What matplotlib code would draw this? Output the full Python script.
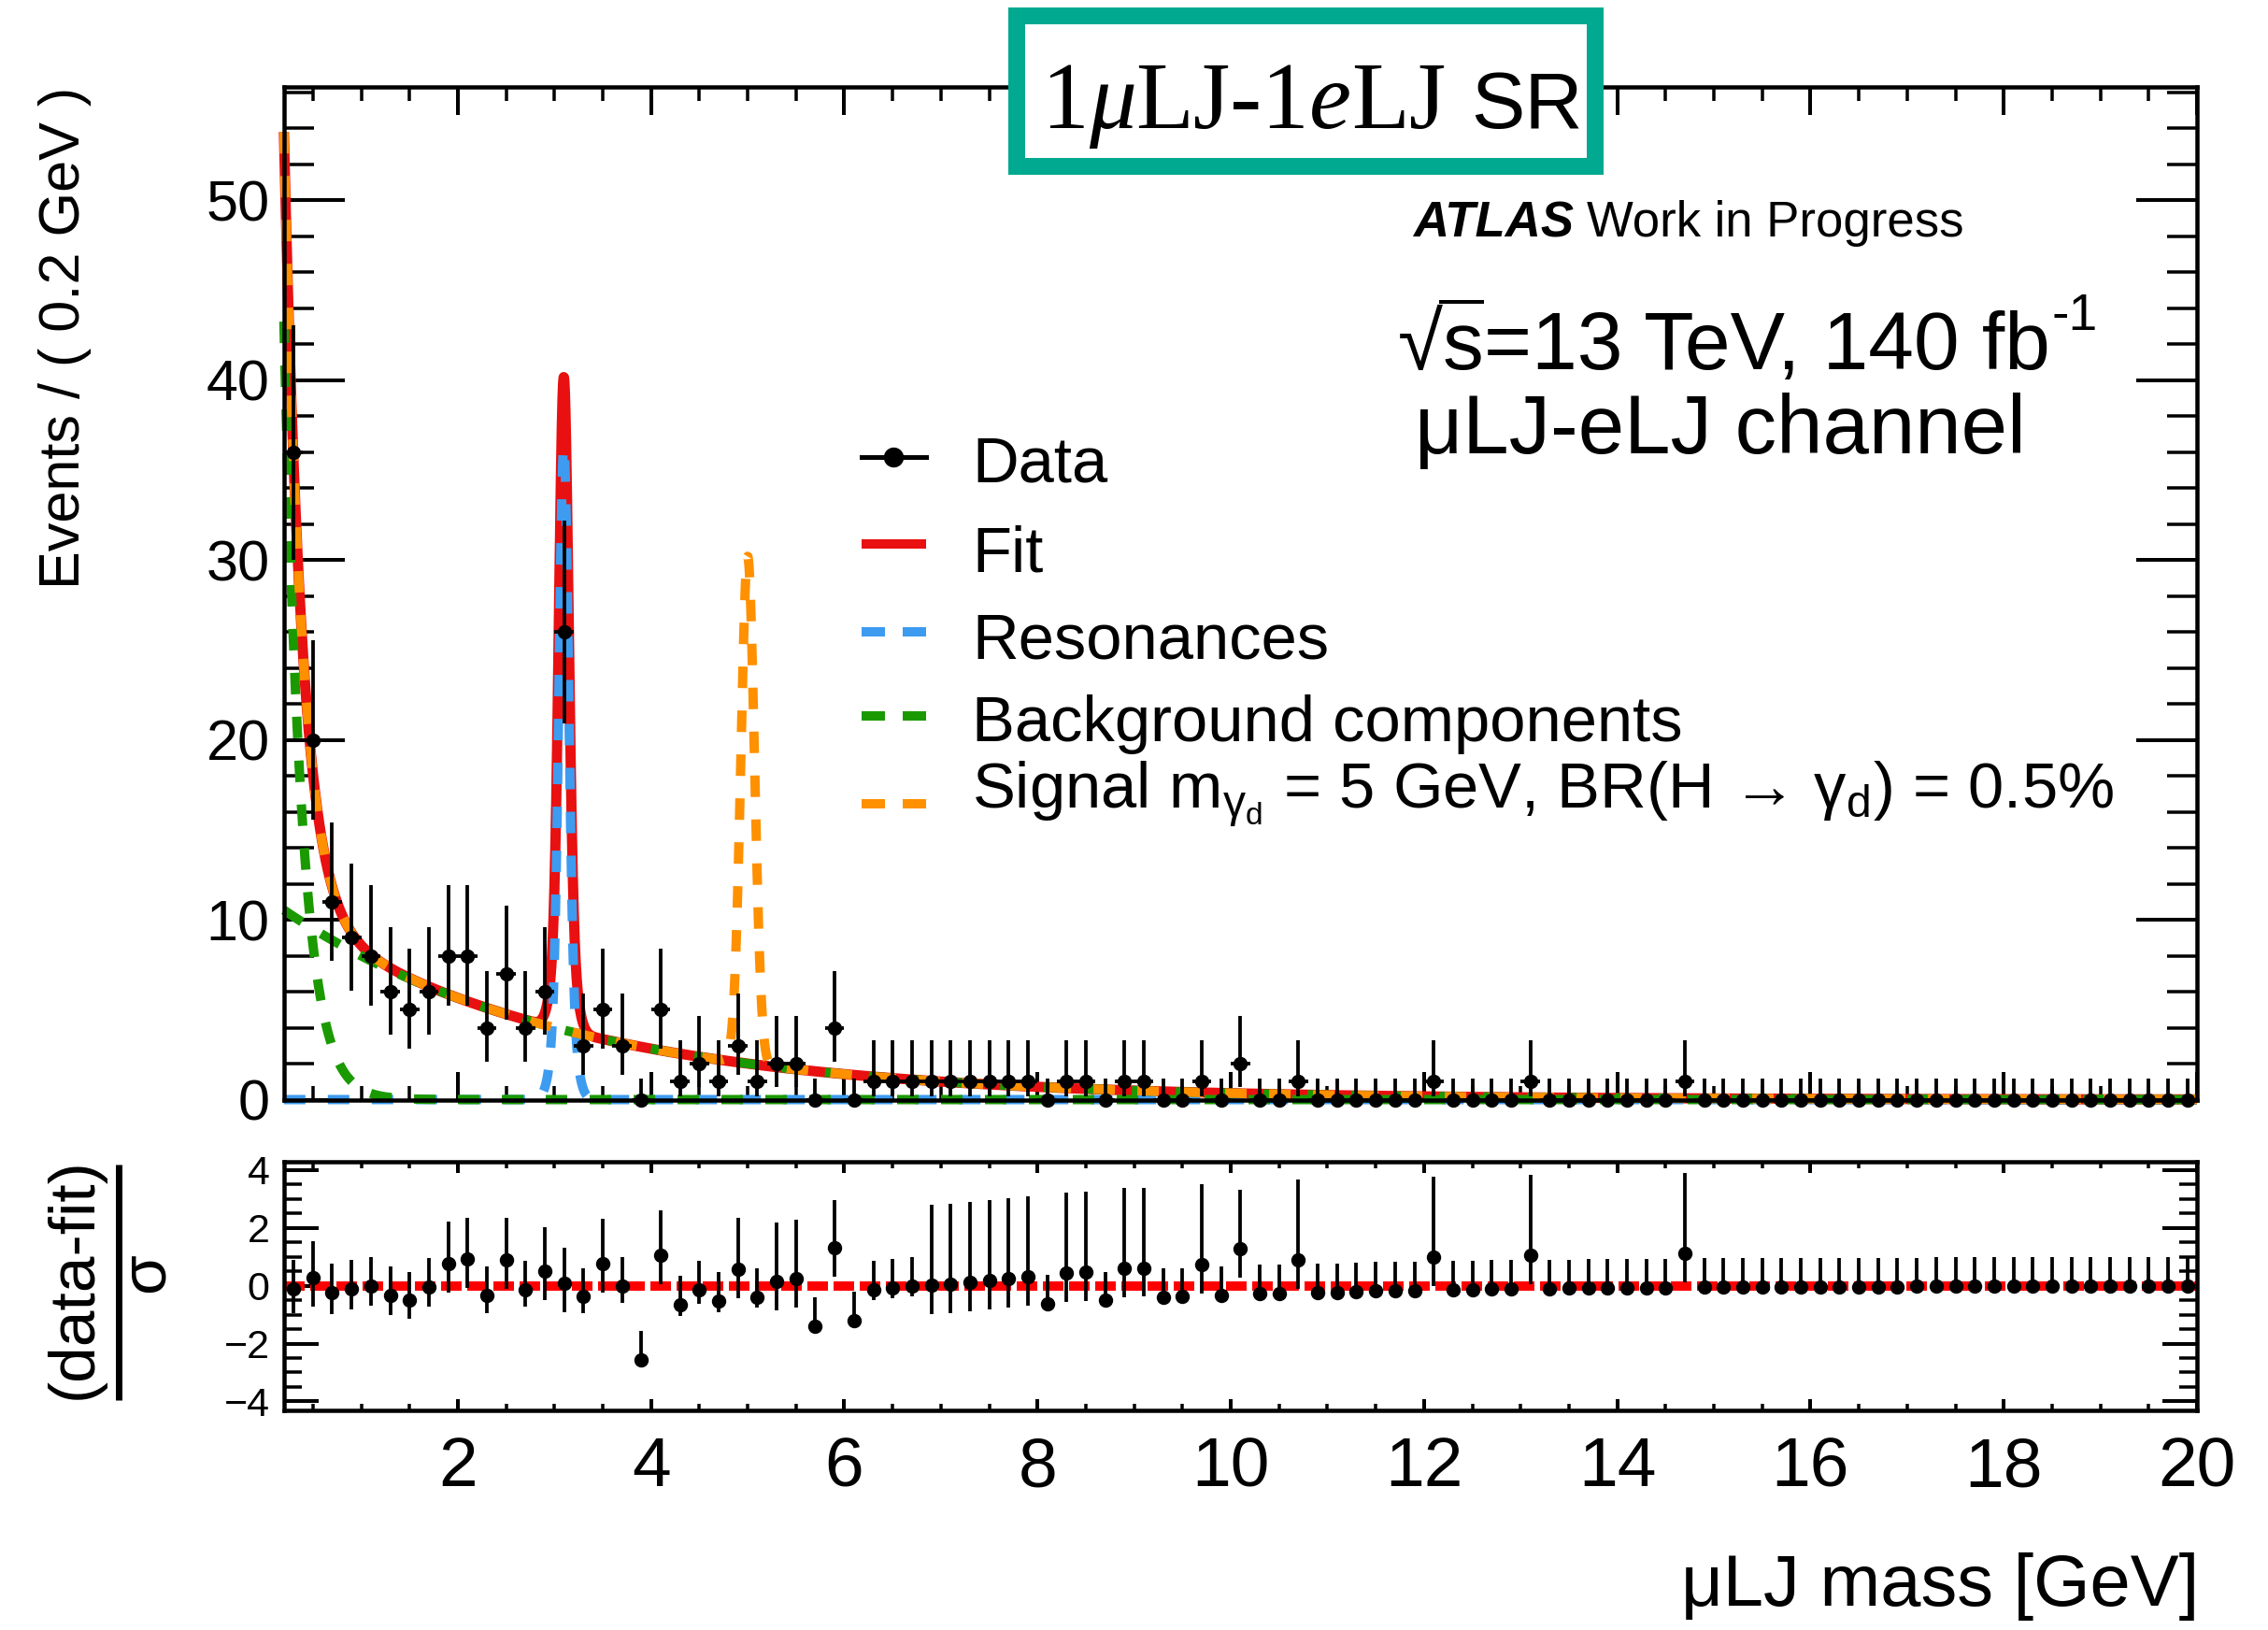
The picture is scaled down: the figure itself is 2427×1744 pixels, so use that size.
import math
import numpy as np
import matplotlib
matplotlib.use("Agg")
import matplotlib.pyplot as plt
from matplotlib.lines import Line2D
from matplotlib.patches import Rectangle
from matplotlib.ticker import MultipleLocator

W, H, DPI = 2427, 1744, 100

plt.rcParams['font.family'] = ['Liberation Sans', 'DejaVu Sans']
plt.rcParams['mathtext.fontset'] = 'custom'
plt.rcParams['mathtext.rm'] = 'Liberation Sans'
plt.rcParams['mathtext.it'] = 'Liberation Sans:italic'
plt.rcParams['mathtext.sf'] = 'Liberation Sans'
plt.rcParams['mathtext.bf'] = 'Liberation Sans:bold'

# ---------------- data ----------------
bin_width = 0.2
x_range = (0.2, 20.0)
bin_centers = np.round(np.arange(0.3, 20.0, 0.2), 1)   # 99 bins
counts = [36, 20, 11, 9, 8, 6, 5, 6, 8, 8,
          4, 7, 4, 6, 26, 3, 5, 3, 0, 5,
          1, 2, 1, 3, 1, 2, 2, 0, 4, 0,
          1, 1, 1, 1, 1, 1, 1, 1, 1, 0,
          1, 1, 0, 1, 1, 0, 0, 1, 0, 2,
          0, 0, 1, 0, 0, 0, 0, 0, 0, 1,
          0, 0, 0, 0, 1, 0, 0, 0, 0, 0,
          0, 0, 1] + [0] * 26
pulls = [-0.11, 0.28, -0.24, -0.10, 0.00, -0.34, -0.51, -0.05, 0.78, 0.92,
         -0.34, 0.88, -0.13, 0.52, 0.09, -0.38, 0.76, -0.02, -2.56, 1.05,
         -0.67, -0.15, -0.54, 0.57, -0.40, 0.14, 0.25, -1.39, 1.32, -1.19,
         -0.13, -0.08, -0.02, 0.01, 0.05, 0.12, 0.18, 0.25, 0.32, -0.61,
         0.43, 0.48, -0.51, 0.59, 0.62, -0.40, -0.38, 0.73, -0.32, 1.29,
         -0.27, -0.26, 0.89, -0.24, -0.22, -0.20, -0.18, -0.17, -0.16, 1.00,
         -0.14, -0.13, -0.12, -0.11, 1.05, -0.10, -0.09, -0.08, -0.08, -0.07,
         -0.07, -0.065, 1.11, -0.055, -0.05, -0.05, -0.045, -0.04, -0.04, -0.035,
         -0.035, -0.03, -0.03, -0.027, -0.025, -0.023, -0.021, -0.02, -0.018, -0.017,
         -0.016, -0.015, -0.014, -0.013, -0.012, -0.011, -0.01, -0.01, -0.01]

# fitted model parameters (events per 0.2 GeV)
steep_norm, steep_slope = 126.6, 5.37
slow_norm, slow_slope = 11.29, 0.346
jpsi_mass, jpsi_peak = 3.097, 36.3
jpsi_core_frac, jpsi_core_sigma, jpsi_tail_sigma = 0.8, 0.048, 0.09
sig_mass, sig_peak, sig_sigma = 5.0, 28.2, 0.07

legend_labels = ["Data", "Fit", "Resonances", "Background components",
                 r"Signal m$_{\mathrm{\gamma}_{\mathrm{d}}}$ = 5 GeV, BR(H → γ$_{\mathrm{d}}$) = 0.5%"]

C_RED = '#e81010'
C_BLUE = '#3d9bf0'
C_GREEN = '#1a9a00'
C_ORANGE = '#ff9000'
C_TEAL = '#00a98f'


def poisson_interval(n):
    alpha = 1.0 - math.erf(1.0 / math.sqrt(2.0))
    if n == 0:
        return 0.0, -math.log(alpha)

    def cdf(k, lam):
        s, term = 0.0, math.exp(-lam)
        for i in range(k + 1):
            if i > 0:
                term *= lam / i
            s += term
        return s

    def solve(f, lo, hi):
        for _ in range(200):
            mid = 0.5 * (lo + hi)
            if f(mid) > 0:
                lo = mid
            else:
                hi = mid
        return 0.5 * (lo + hi)

    lower = solve(lambda l: (alpha / 2) - (1 - cdf(n - 1, l)), 0.0, n + 50.0)
    upper = solve(lambda l: cdf(n, l) - alpha / 2, 0.0, n + 50.0)
    return lower, upper


counts_arr = np.array(counts, dtype=float)
pulls_arr = np.array(pulls, dtype=float)
err_lo = np.zeros_like(counts_arr)
err_hi = np.zeros_like(counts_arr)
for i, n in enumerate(counts):
    lo, hi = poisson_interval(n)
    err_lo[i] = n - lo
    err_hi[i] = hi - n

pull_lo = np.zeros_like(pulls_arr)
pull_hi = np.zeros_like(pulls_arr)
for i in range(len(pulls)):
    s = err_lo[i] if (pulls_arr[i] > 0 and err_lo[i] > 0) else err_hi[i]
    pull_lo[i] = err_lo[i] / s
    pull_hi[i] = err_hi[i] / s

# model curves
xs = np.linspace(x_range[0], x_range[1], 8000)
steep = steep_norm * np.exp(-steep_slope * xs)
slow = slow_norm * np.exp(-slow_slope * xs)
d = xs - jpsi_mass
res = jpsi_peak * (jpsi_core_frac * np.exp(-d ** 2 / (2 * jpsi_core_sigma ** 2)) +
                   (1 - jpsi_core_frac) * np.exp(-d ** 2 / (2 * jpsi_tail_sigma ** 2)))
fit = steep + slow + res
signal = steep + slow + sig_peak * np.exp(-(xs - sig_mass) ** 2 / (2 * sig_sigma ** 2))

# ---------------- figure ----------------
fig = plt.figure(figsize=(W / DPI, H / DPI), dpi=DPI)
fig.patch.set_facecolor('white')


def fx(px):
    return px / W


def fy(py):
    return 1 - py / H


main_l, main_r = 303.8, 2351.0
main_t, main_b = 92.9, 1176.5
rat_t, rat_b = 1242.7, 1508.7
ax = fig.add_axes([fx(main_l), fy(main_b), fx(main_r) - fx(main_l), fy(main_t) - fy(main_b)])
ax2 = fig.add_axes([fx(main_l), fy(rat_b), fx(main_r) - fx(main_l), fy(rat_t) - fy(rat_b)])

PX = 72.0 / DPI  # points per pixel
dash_lw = 10 * PX
dash_pat = (2.3, 2.4)

ax.plot(xs, fit, color=C_RED, lw=11 * PX, zorder=3, clip_on=False, solid_capstyle='butt')
ax.plot(xs, res, color=C_BLUE, lw=dash_lw, dashes=dash_pat, zorder=4, clip_on=False)
ax.plot(xs, steep, color=C_GREEN, lw=dash_lw, dashes=dash_pat, zorder=5, clip_on=False)
ax.plot(xs, slow, color=C_GREEN, lw=dash_lw, dashes=dash_pat, zorder=5, clip_on=False)
ax.plot(xs, signal, color=C_ORANGE, lw=dash_lw, dashes=dash_pat, zorder=6, clip_on=False)

eb = ax.errorbar(bin_centers, counts_arr, xerr=bin_width / 2, yerr=[err_lo, err_hi],
                 fmt='o', color='black', ms=14 * PX, elinewidth=3.8 * PX, capsize=0, zorder=10)
eb.lines[0].set_clip_on(False)
for coll in eb.lines[2]:
    coll.set_clip_on(False)

ax.set_xlim(*x_range)
ax.set_ylim(0, 56.3)

# ratio
ax2.axhline(0, color='#ff0000', lw=10 * PX, dashes=(2.2, 0.6), zorder=3)
eb2 = ax2.errorbar(bin_centers, pulls_arr, yerr=[pull_lo, pull_hi], fmt='o', color='black',
                   ms=14 * PX, elinewidth=3.8 * PX, capsize=0, zorder=10)
ax2.set_xlim(*x_range)
ax2.set_ylim(-4.3, 4.3)

for a in (ax, ax2):
    for sp in a.spines.values():
        sp.set_linewidth(4.5 * PX)
        sp.set_zorder(20)

ax.xaxis.set_major_locator(MultipleLocator(2))
ax.xaxis.set_minor_locator(MultipleLocator(0.5))
ax.yaxis.set_major_locator(MultipleLocator(10))
ax.yaxis.set_minor_locator(MultipleLocator(2))
ax.tick_params(axis='x', which='major', direction='in', length=30 * PX, width=4 * PX,
               top=True, bottom=True, labelbottom=False)
ax.tick_params(axis='x', which='minor', direction='in', length=15 * PX, width=3.5 * PX,
               top=True, bottom=True)
ax.tick_params(axis='y', which='major', direction='in', length=65 * PX, width=4 * PX,
               left=True, right=True, labelsize=44, pad=11)
ax.tick_params(axis='y', which='minor', direction='in', length=32 * PX, width=3.5 * PX,
               left=True, right=True)

ax2.xaxis.set_major_locator(MultipleLocator(2))
ax2.xaxis.set_minor_locator(MultipleLocator(0.5))
ax2.yaxis.set_major_locator(MultipleLocator(2))
ax2.yaxis.set_minor_locator(MultipleLocator(0.5))
ax2.tick_params(axis='x', which='major', direction='in', length=12 * PX, width=4 * PX,
               top=True, bottom=True, labelsize=54, pad=20)
ax2.tick_params(axis='x', which='minor', direction='in', length=7 * PX, width=3.5 * PX,
               top=True, bottom=True)
ax2.tick_params(axis='y', which='major', direction='in', length=37 * PX, width=4 * PX,
               left=True, right=True, labelsize=31, pad=11)
ax2.tick_params(axis='y', which='minor', direction='in', length=19 * PX, width=3.5 * PX,
               left=True, right=True)
ax2.set_xticks([2, 4, 6, 8, 10, 12, 14, 16, 18, 20])

# ---------------- texts ----------------
renderer = fig.canvas.get_renderer()


def chain(x_px, base_px, pieces, zorder=6):
    x = x_px
    xs_out = [x]
    for s, kw in pieces:
        t = fig.text(fx(x), fy(base_px), s, ha='left', va='baseline', zorder=zorder, **kw)
        bb = t.get_window_extent(renderer)
        x += bb.width
        xs_out.append(x)
    return xs_out


# axis labels
fig.text(fx(70), fy(93), 'Events / ( 0.2 GeV )', rotation=90, ha='center', va='top', fontsize=44)
fig.text(fx(2353), fy(1718), 'μLJ mass [GeV]', ha='right', va='baseline', fontsize=56)
fig.text(fx(80), fy(1368), '(data-fit)', rotation=90, ha='center', va='center', fontsize=50)
fig.add_artist(Line2D([fx(127), fx(127)], [fy(1246), fy(1498)], transform=fig.transFigure,
                      color='black', lw=7 * PX, solid_capstyle='butt'))
fig.text(fx(157), fy(1362), 'σ', rotation=90, ha='center', va='center', fontsize=50)

# title box
fig.add_artist(Rectangle((fx(1088), fy(178)), fx(1707) - fx(1088), fy(17) - fy(178),
                         transform=fig.transFigure, facecolor='white', edgecolor=C_TEAL,
                         lw=18 * PX, zorder=5, joinstyle='miter'))
serif = dict(fontsize=73, family='Liberation Serif')
serif_it = dict(fontsize=73, family='Liberation Serif', style='italic')
chain(1114, 137, [('1', serif), ('μ', serif_it), ('LJ-1', serif), ('e', serif_it), ('LJ', serif)])
fig.text(fx(1574), fy(137), 'SR', ha='left', va='baseline', fontsize=62, zorder=6)

# ATLAS label
pos = chain(1512, 253, [('ATLAS', dict(fontsize=38, weight='bold', style='italic'))])
fig.text(fx(pos[-1] + 14), fy(253), 'Work in Progress', ha='left', va='baseline', fontsize=38)

# sqrt(s) line
big = dict(fontsize=63)
pos = chain(1496, 395, [('√', big), ('s', big), ('=13 TeV, 140 fb', big)])
fig.add_artist(Line2D([fx(pos[1] - 4), fx(pos[2])], [fy(395 - 72)] * 2, transform=fig.transFigure,
                      color='black', lw=4 * PX, solid_capstyle='butt'))
fig.text(fx(pos[3] + 2), fy(353), '-1', ha='left', va='baseline', fontsize=40)
fig.text(fx(1514), fy(485), 'μLJ-eLJ channel', ha='left', va='baseline', fontsize=64)

# legend
h_x0, h_x1, t_x = 922, 991, 1040
rows = [489, 582, 676, 766, 860]
bases = [515, 611, 704, 793, 864]
styles = [
    dict(color='black', lw=5 * PX, marker='o', markersize=20 * PX, markevery=[1]),
    dict(color=C_RED, lw=10 * PX, solid_capstyle='butt'),
    dict(color=C_BLUE, lw=dash_lw, dashes=(2.5, 1.9)),
    dict(color=C_GREEN, lw=dash_lw, dashes=(2.5, 1.9)),
    dict(color=C_ORANGE, lw=dash_lw, dashes=(2.5, 1.9)),
]
for lab, yr, yb, st in zip(legend_labels, rows, bases, styles):
    xsx = [fx(h_x0), fx((h_x0 + h_x1) / 2), fx(h_x1)]
    fig.add_artist(Line2D(xsx, [fy(yr)] * 3, transform=fig.transFigure, **st))
    fig.text(fx(t_x), fy(yb), lab, ha='left', va='baseline', fontsize=49.5)

fig.savefig('out.png', dpi=DPI, facecolor='white')
